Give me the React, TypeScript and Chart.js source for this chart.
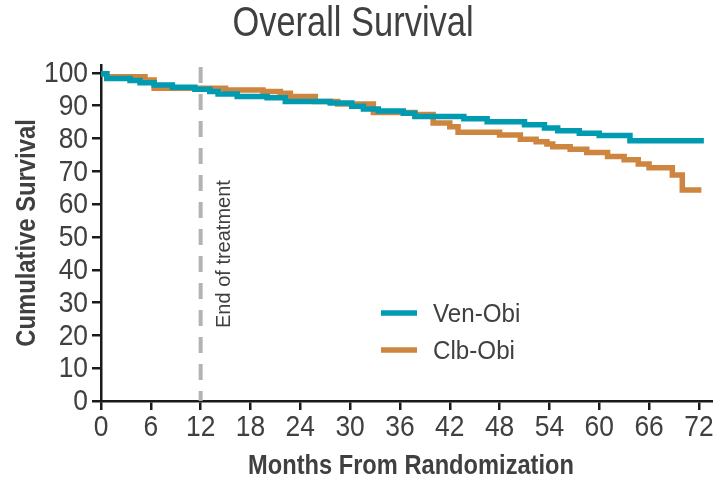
import React, { useEffect, useRef } from 'react';
import { Chart, registerables } from 'chart.js';

Chart.register(...registerables);

const TITLE = 'Overall Survival';
const X_TITLE = 'Months From Randomization';
const Y_TITLE = 'Cumulative Survival';
const X_TICKS = [0, 6, 12, 18, 24, 30, 36, 42, 48, 54, 60, 66, 72];
const Y_TICKS = [0, 10, 20, 30, 40, 50, 60, 70, 80, 90, 100];
const SERIES_LABELS = ['Ven-Obi', 'Clb-Obi'];
const SERIES_COLORS = ['#009bb0', '#cd853f'];

// Kaplan-Meier steps: value after each drop at the given month
const venMonths = [0, 0.7, 3.5, 4.7, 6.4, 8.6, 11.3, 13.1, 14.1, 16.4, 20, 22.2, 27.6, 30.2, 31.6, 33.4, 36.4, 37.8, 43.7, 46.5, 51, 53.4, 55, 57.6, 60, 63.7, 72.6];
const venSurvival = [99.7, 98.3, 97.7, 97.0, 96.3, 95.6, 95.0, 94.3, 93.6, 92.8, 92.4, 91.3, 90.8, 89.8, 89.0, 88.4, 87.7, 86.7, 86.0, 85.1, 84.2, 83.2, 82.4, 81.6, 80.9, 79.3, 79.3];

const clbMonths = [0, 0.7, 5.3, 6.4, 15, 19.5, 21.6, 22.8, 25.8, 28.5, 32.8, 37.8, 40, 42, 43, 48, 50.5, 52.4, 53.7, 54.4, 56.5, 58.5, 61, 63, 64.7, 66, 68.8, 70, 72.3];
const clbSurvival = [99.7, 98.8, 97.8, 95.3, 94.8, 94.3, 93.8, 92.8, 91.3, 90.5, 87.9, 87.3, 84.7, 83.6, 81.9, 81.1, 79.8, 79.0, 78.3, 77.5, 76.7, 75.7, 74.5, 73.5, 72.2, 71.1, 68.9, 64.3, 64.3];

const END_OF_TREATMENT_MONTH = 12;
const END_LABEL = 'End of treatment';

const FONT = '"Liberation Sans", Arial, sans-serif';
const TEXT_COLOR = '#404040';
const AXIS_COLOR = '#1a1a1a';

const toPoints = (xs: number[], ys: number[]) => xs.map((x, i) => ({ x, y: ys[i] }));

function drawText(
  ctx: CanvasRenderingContext2D,
  text: string,
  x: number,
  y: number,
  font: string,
  sx: number,
  align: CanvasTextAlign = 'center',
  rotate = 0,
) {
  ctx.save();
  ctx.translate(x, y);
  if (rotate) ctx.rotate(rotate);
  ctx.scale(sx, 1);
  ctx.font = font;
  ctx.fillStyle = TEXT_COLOR;
  ctx.textAlign = align;
  ctx.textBaseline = 'middle';
  ctx.fillText(text, 0, 0);
  ctx.restore();
}

const overlayPlugin = {
  id: 'overlay',
  beforeDatasetsDraw(chart: any) {
    const { ctx, chartArea, scales } = chart;
    const x = scales.x.getPixelForValue(END_OF_TREATMENT_MONTH);
    ctx.save();
    ctx.strokeStyle = '#b3b3b3';
    ctx.lineWidth = 4;
    ctx.setLineDash([16, 11]);
    ctx.beginPath();
    ctx.moveTo(x, chartArea.top + 2);
    ctx.lineTo(x, chartArea.bottom);
    ctx.stroke();
    ctx.restore();

    drawText(ctx, END_LABEL, x + 24, chartArea.bottom - 73, `20px ${FONT}`, 1, 'left', -Math.PI / 2);
  },
  afterDatasetsDraw(chart: any) {
    const { ctx, chartArea, scales } = chart;
    // legend
    const lx = chartArea.left + 280;
    const rows = [chartArea.bottom - 88, chartArea.bottom - 51];
    chart.data.datasets.forEach((ds: any, i: number) => {
      const y = rows[i];
      ctx.save();
      ctx.strokeStyle = ds.borderColor;
      ctx.lineWidth = 5.5;
      ctx.beginPath();
      ctx.moveTo(lx, y);
      ctx.lineTo(lx + 36, y);
      ctx.stroke();
      ctx.restore();
      drawText(ctx, ds.label, lx + 52, y + 2, `26px ${FONT}`, 0.93, 'left');
    });

    // tick labels
    const tickFont = `30px ${FONT}`;
    X_TICKS.forEach((v) => {
      drawText(ctx, String(v), scales.x.getPixelForValue(v), chartArea.bottom + 27, tickFont, 0.88, 'center');
    });
    Y_TICKS.forEach((v) => {
      drawText(ctx, String(v), chartArea.left - 13, scales.y.getPixelForValue(v) + 1, tickFont, 0.88, 'right');
    });

    // titles
    drawText(ctx, TITLE, (chartArea.left + chartArea.right) / 2 - 54, 24, `42px ${FONT}`, 0.82, 'center');
    drawText(ctx, X_TITLE, (chartArea.left + chartArea.right) / 2 + 4, 466, `bold 28px ${FONT}`, 0.845, 'center');
    drawText(ctx, Y_TITLE, 27, (chartArea.top + chartArea.bottom) / 2, `bold 28px ${FONT}`, 0.85, 'center', -Math.PI / 2);
  },
};

export default function App() {
  const ref = useRef<HTMLCanvasElement>(null);
  useEffect(() => {
    document.body.style.margin = '0';
    const chart = new Chart(ref.current as HTMLCanvasElement, {
      type: 'line',
      data: {
        datasets: [
          {
            label: SERIES_LABELS[0],
            data: toPoints(venMonths, venSurvival),
            borderColor: SERIES_COLORS[0],
            backgroundColor: SERIES_COLORS[0],
            borderWidth: 5.5,
            stepped: 'before',
            pointRadius: 0,
            fill: false,
          },
          {
            label: SERIES_LABELS[1],
            data: toPoints(clbMonths, clbSurvival),
            borderColor: SERIES_COLORS[1],
            backgroundColor: SERIES_COLORS[1],
            borderWidth: 5.5,
            stepped: 'before',
            pointRadius: 0,
            fill: false,
          },
        ],
      },
      options: {
        animation: false,
        responsive: false,
        layout: { padding: { left: 0, right: 0, top: 65, bottom: 0 } },
        plugins: {
          legend: { display: false },
          tooltip: { enabled: false },
          title: { display: false },
        },
        scales: {
          x: {
            type: 'linear',
            min: 0,
            max: 73.7,
            afterBuildTicks: (s: any) => { s.ticks = X_TICKS.map((v) => ({ value: v })); },
            afterFit: (s: any) => { s.height = 76; s.paddingLeft = 0; s.paddingRight = 0; },
            grid: { drawOnChartArea: false, drawTicks: true, tickLength: 9, color: AXIS_COLOR, lineWidth: 2.5 },
            border: { display: true, color: AXIS_COLOR, width: 2.5 },
            ticks: { display: false },
          },
          y: {
            type: 'linear',
            min: 0,
            max: 102.4,
            afterBuildTicks: (s: any) => { s.ticks = Y_TICKS.map((v) => ({ value: v })); },
            afterFit: (s: any) => { s.width = 101; s.paddingTop = 0; s.paddingBottom = 0; },
            grid: { drawOnChartArea: false, drawTicks: true, tickLength: 9, color: AXIS_COLOR, lineWidth: 2.5 },
            border: { display: true, color: AXIS_COLOR, width: 2.5 },
            ticks: { display: false },
          },
        },
      },
      plugins: [overlayPlugin],
    });
    return () => chart.destroy();
  }, []);
  return <canvas ref={ref} width={713} height={477} style={{ display: 'block' }} />;
}
